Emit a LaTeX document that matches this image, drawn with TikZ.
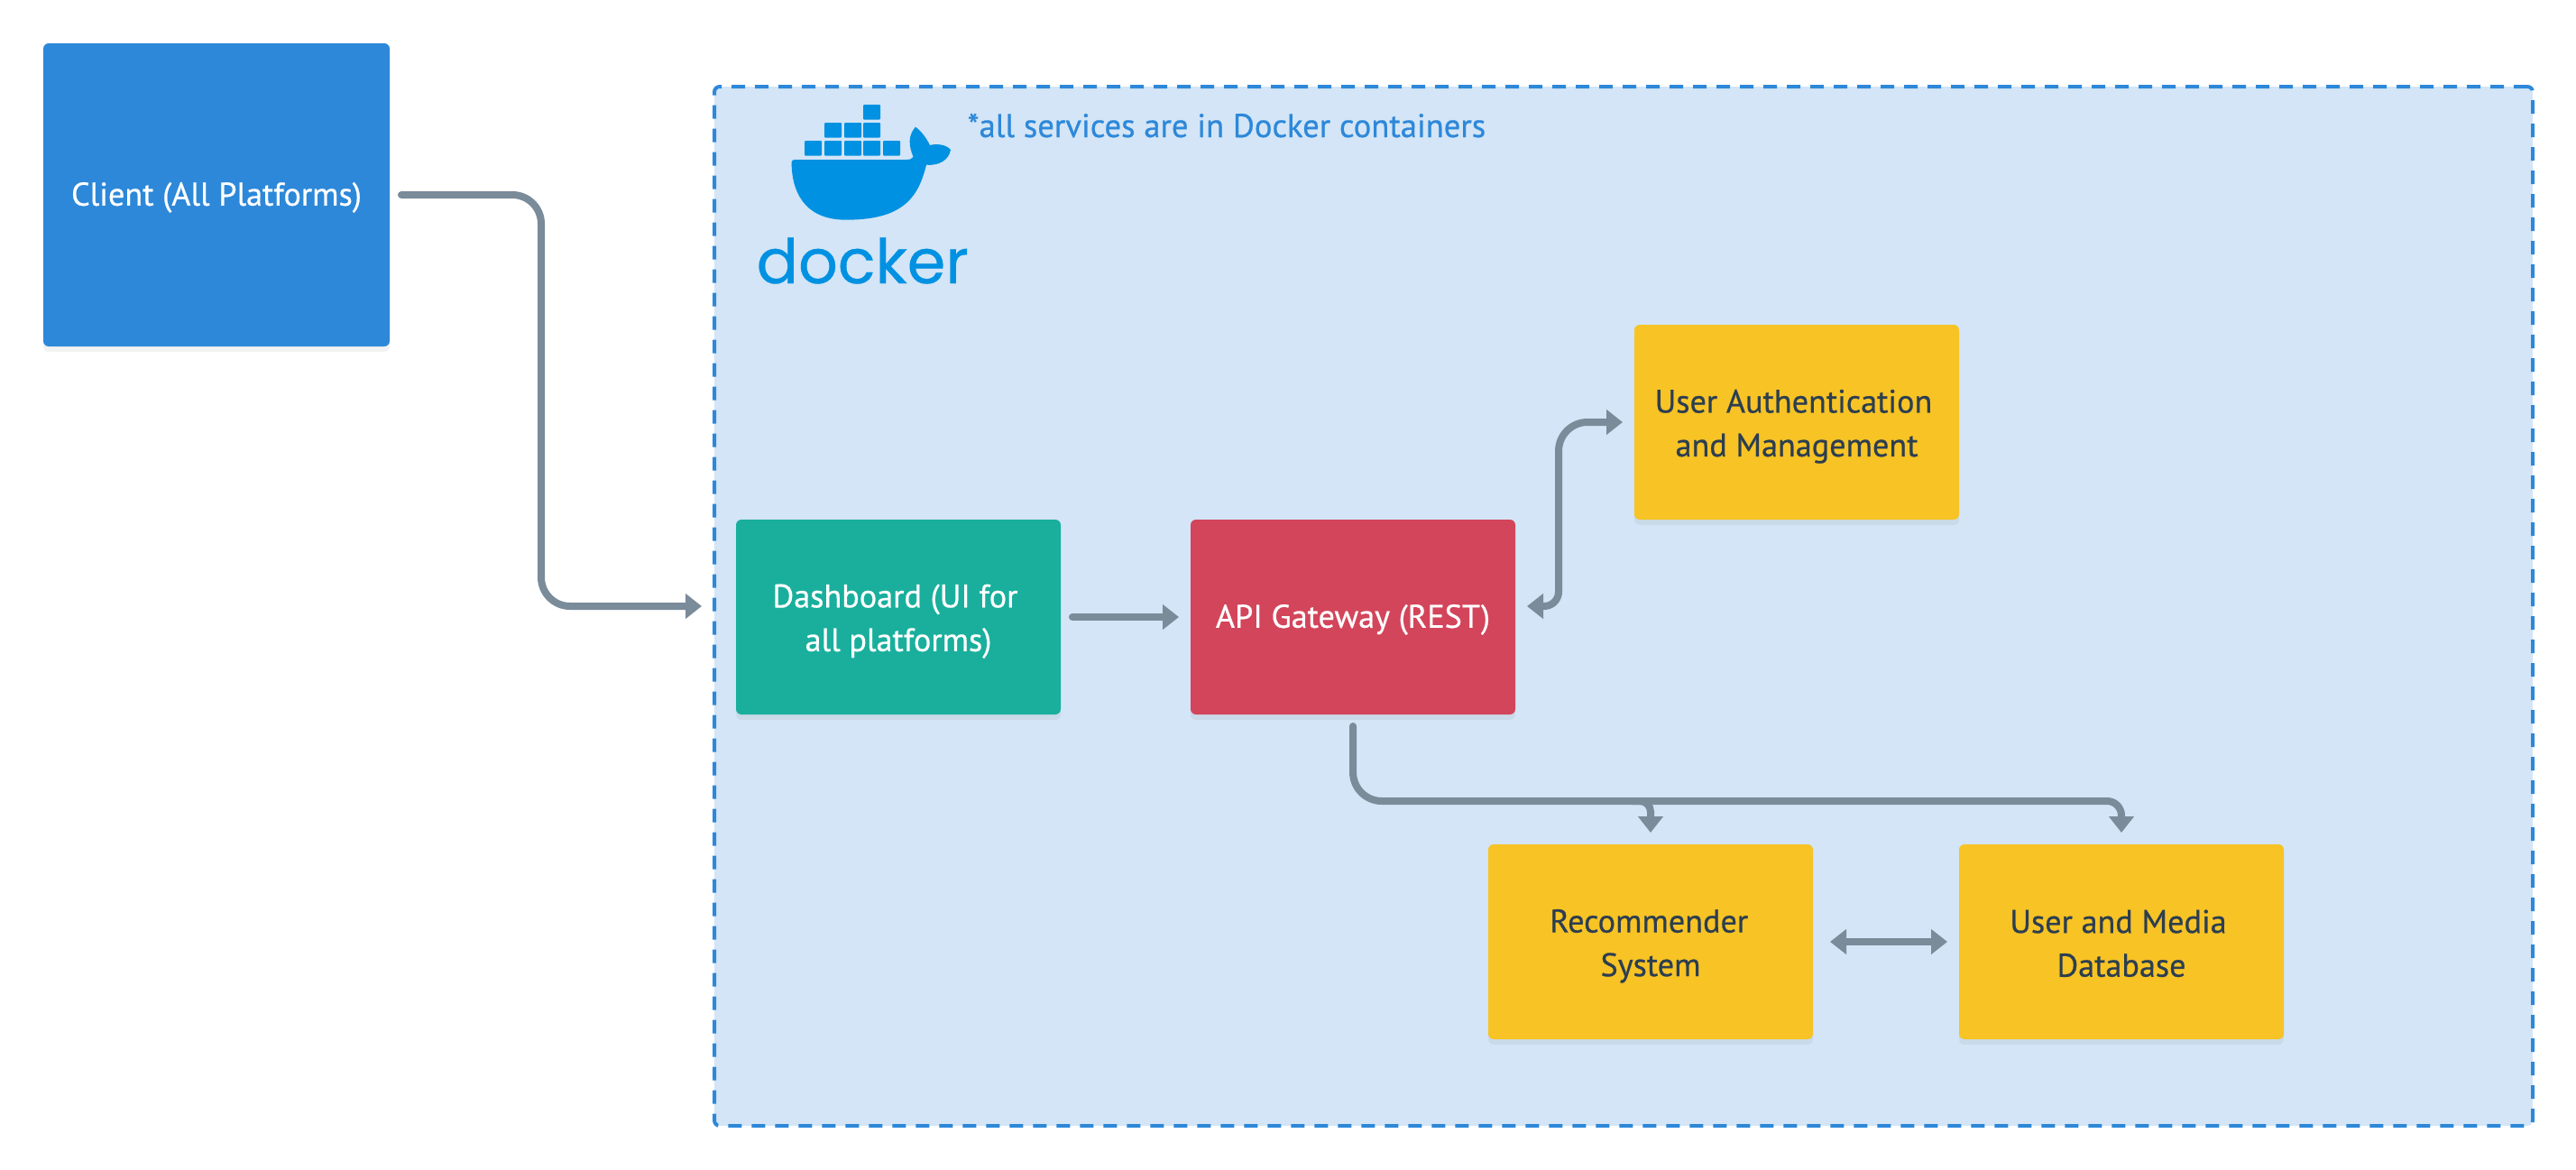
\documentclass[tikz,border=0pt]{standalone}
\usepackage{fontspec}
\setmainfont[FakeBold=0.6]{PT Sans}
\newfontfamily\logofont[FakeBold=0.5]{Poppins}
\usetikzlibrary{arrows.meta,calc,shadows}
\definecolor{clientblue}{HTML}{2D88D9}
\definecolor{zonefill}{HTML}{D3E5F6}
\definecolor{dockerblue}{HTML}{0091E2}
\definecolor{dashteal}{HTML}{1AAF9D}
\definecolor{apired}{HTML}{D3455B}
\definecolor{svcyellow}{HTML}{F7C325}
\definecolor{linegrey}{HTML}{7A8B99}
\definecolor{textdark}{HTML}{2C3E50}
\def\lineup{\rule{0pt}{10pt}}
\tikzset{
	box/.style={rectangle, rounded corners=0.6mm, outer sep=1.3mm, align=center, font=\fontsize{10.3}{13.8}\selectfont,
		minimum width=3.6cm, minimum height=2.16cm, inner sep=0pt,
		execute at begin node={\rule{0pt}{9pt}}, execute at end node={\rule[-1.8pt]{0pt}{1.8pt}},
		drop shadow={shadow xshift=0cm, shadow yshift=-0.06cm, opacity=0.1}},
	whitebox/.style={box, text=white},
	svcbox/.style={box, fill=svcyellow, text=textdark},
	flow/.style={line width=0.8mm, color=linegrey, line cap=round, -{Triangle[length=1.8mm, width=2.7mm]}},
	flowboth/.style={flow, {Triangle[length=1.8mm, width=2.7mm]}-{Triangle[length=1.8mm, width=2.7mm]}},
}

\begin{document}
\begin{tikzpicture}
		\useasboundingbox (0, 0) rectangle (28.56, -12.96);
		
		% container zone
		\node[rectangle, rounded corners=0.6mm, fill=zonefill, draw=clientblue, line width=0.4mm, dash pattern=on 1.5mm off 1.1mm, minimum width=20.16cm, minimum height=11.52cm, outer sep=1.4mm] (zone) at (18, -6.72) {};
		
		% left column
		\node[whitebox, fill=clientblue, minimum width=3.84cm, minimum height=3.36cm] (client) at (2.4, -2.16) {Client (All Platforms)};
		\node[whitebox, fill=dashteal] (dashboard) at (9.96, -6.84) {\lineup Dashboard (UI for\hspace*{2pt}\\all platforms)};
		\node[whitebox, fill=apired] (apigw) at (15, -6.84) {API Gateway (REST)};
		
		\node[svcbox] (auth) at (19.92, -4.68) {\lineup User Authentication\hspace*{2pt}\\and Management};
		\node[svcbox] (recsys) at (18.3, -10.44) {\lineup Recommender\hspace*{1pt}\\System};
		\node[svcbox] (mediadb) at (23.52, -10.44) {\lineup User and Media\hspace*{2pt}\\Database};
		
		% docker logo
		\foreach \bx/\by in {9.57/1.16, 9.14/1.36, 9.36/1.36, 9.57/1.36, 8.92/1.56, 9.14/1.56, 9.36/1.56, 9.57/1.56, 9.79/1.56}
			\fill[dockerblue, rounded corners=0.1mm] (\bx, -\by) rectangle ++(0.19, -0.167);
		\fill[dockerblue] (8.776, -1.80) .. controls (8.776, -1.78) and (8.79, -1.77) .. (8.81, -1.77) -- (10.05, -1.77)
			.. controls (10.09, -1.77) and (10.11, -1.76) .. (10.125, -1.74)
			.. controls (10.07, -1.60) and (10.07, -1.50) .. (10.15, -1.407)
			.. controls (10.22, -1.46) and (10.27, -1.53) .. (10.31, -1.61)
			.. controls (10.38, -1.59) and (10.49, -1.60) .. (10.54, -1.66)
			.. controls (10.52, -1.78) and (10.40, -1.84) .. (10.27, -1.827)
			.. controls (10.18, -2.20) and (10.00, -2.437) .. (9.38, -2.437)
			.. controls (8.90, -2.437) and (8.776, -2.10) .. (8.776, -1.80) -- cycle;
		\node[text=dockerblue, font=\logofont\fontsize{19.5}{20}\selectfont, inner sep=0pt, anchor=base west] (logotext) at (8.38, -3.14) {docker};
		\node[text=dockerblue, font=\logofont\fontsize{2}{2}\selectfont, inner sep=0pt, anchor=base west] (logomark) at (10.55, -3.14) {®};
		\node[text=clientblue, font=\fontsize{10.42}{13}\selectfont, inner sep=0pt, anchor=base west] (note) at (10.72, -1.52) {*all services are in Docker containers};
		
		% connectors
		\draw[flow, rounded corners=3.2mm] (client.east) -| (6, -4) |- (zone.west);
		\draw[flow] (dashboard.east) -- (apigw.west);
		\draw[flowboth] ($(apigw.east)+(0, 0.12)$) [rounded corners=1.6mm] -| (17.28, -5.5) [rounded corners=3.2mm] |- (auth.west);
		\draw[flow, rounded corners=3.2mm] (apigw.south) -- (15, -8.88) [rounded corners=1.6mm] -- (23.52, -8.88) -- (mediadb.north);
		\draw[flow, rounded corners=1.2mm] (18.1, -8.88) -| (recsys.north);
		\draw[flowboth] ($(recsys.east)+(0.06, 0)$) -- (mediadb.west);
		
	\end{tikzpicture}
\end{document}
